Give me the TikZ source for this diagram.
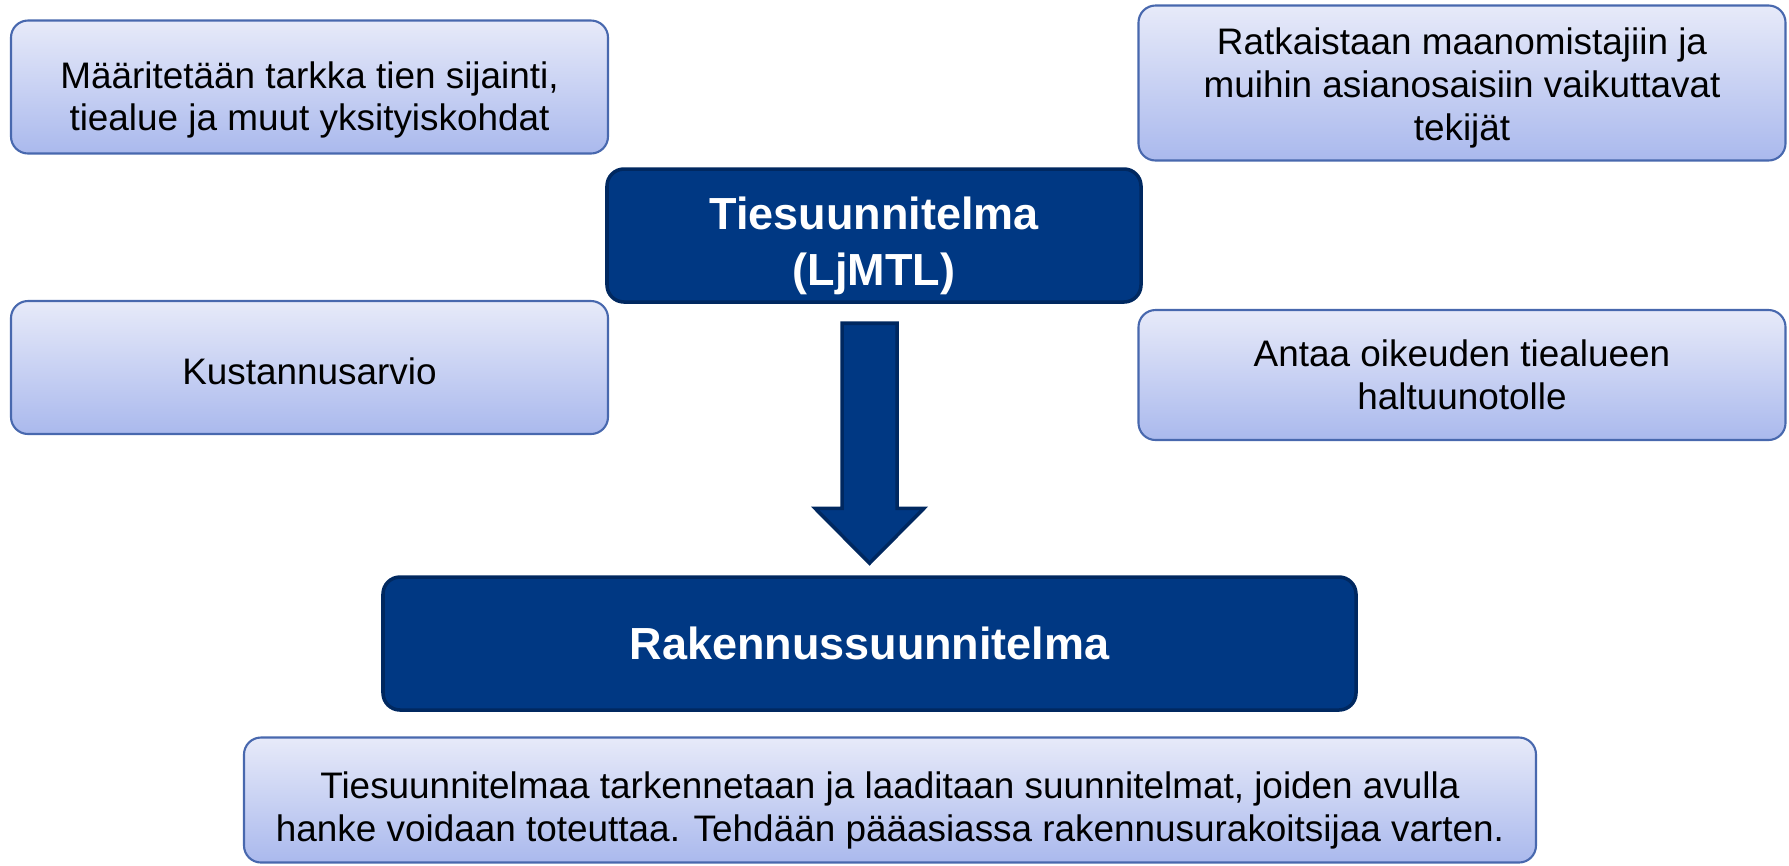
\documentclass[tikz,border=0pt]{standalone}
\usepackage{fontspec}
\setmainfont{Liberation Sans}
\usetikzlibrary{calc}
\definecolor{boxtop}{RGB}{231,234,249}
\definecolor{boxbot}{RGB}{170,185,237}
\definecolor{boxline}{RGB}{72,104,174}
\definecolor{darkblue}{RGB}{0,56,131}
\definecolor{darkline}{RGB}{0,40,96}
% strut to push a text block a little down in its box
\newcommand{\topstrut}[1]{\rule{0pt}{#1}}
\tikzset{
  lightbox/.style={draw=boxline, line width=0.6pt, rounded corners=0.17cm,
    top color=boxtop, bottom color=boxbot, align=center, inner sep=0pt,
    font=\fontsize{10.5}{12.2}\selectfont},
  darkbox/.style={draw=darkline, line width=1pt, rounded corners=0.17cm,
    fill=darkblue, text=white, align=center, inner sep=0pt,
    font=\bfseries\fontsize{12.8}{16}\selectfont},
  bigarrow/.style={draw=darkline, line width=1pt, fill=darkblue}
}
\begin{document}
\begin{tikzpicture}
    \useasboundingbox (0,0) rectangle (17.89,-8.65);
    % Main boxes
    \node [darkbox, minimum width=5.34cm, minimum height=1.33cm] (tie) at (8.74,-2.355) {\topstrut{15.2pt}Tiesuunnitelma\\(LjMTL)};
    \node [darkbox, minimum width=9.73cm, minimum height=1.33cm] (rak) at (8.695,-6.435) {Rakennussuunnitelma};
    % Side boxes
    \node [lightbox, minimum width=5.97cm, minimum height=1.33cm] (sijainti) at (3.095,-0.87) {\topstrut{15pt}Määritetään tarkka tien sijainti,\\tiealue ja muut yksityiskohdat};
    \node [lightbox, minimum width=6.47cm, minimum height=1.55cm] (maanom) at (14.62,-0.83) {\topstrut{10.5pt}Ratkaistaan maanomistajiin ja\\muihin asianosaisiin vaikuttavat\\tekijät};
    \node [lightbox, minimum width=5.97cm, minimum height=1.33cm] (kustannus) at (3.095,-3.675) {\topstrut{9.5pt}Kustannusarvio};
    \node [lightbox, minimum width=6.47cm, minimum height=1.30cm] (oikeus) at (14.62,-3.75) {Antaa oikeuden tiealueen\\haltuunotolle};
    \node [lightbox, minimum width=12.92cm, minimum height=1.25cm] (tarkennus) at (8.90,-8.0) {\topstrut{13.5pt}Tiesuunnitelmaa tarkennetaan ja laaditaan suunnitelmat, joiden avulla\\hanke voidaan toteuttaa. Tehdään pääasiassa rakennusurakoitsijaa varten.};
    % Block arrow from tie to rak
    \coordinate (atop) at ($(rak.north)+(0,2.52)$);
    \coordinate (aneck) at ($(rak.north)+(0,0.67)$);
    \coordinate (atip) at ($(rak.north)+(0,0.12)$);
    \draw [bigarrow] ($(atop)+(-0.275,0)$) -- ($(atop)+(0.275,0)$)
        -- ($(aneck)+(0.275,0)$) -- ($(aneck)+(0.545,0)$) -- (atip)
        -- ($(aneck)+(-0.545,0)$) -- ($(aneck)+(-0.275,0)$) -- cycle;
\end{tikzpicture}
\end{document}
